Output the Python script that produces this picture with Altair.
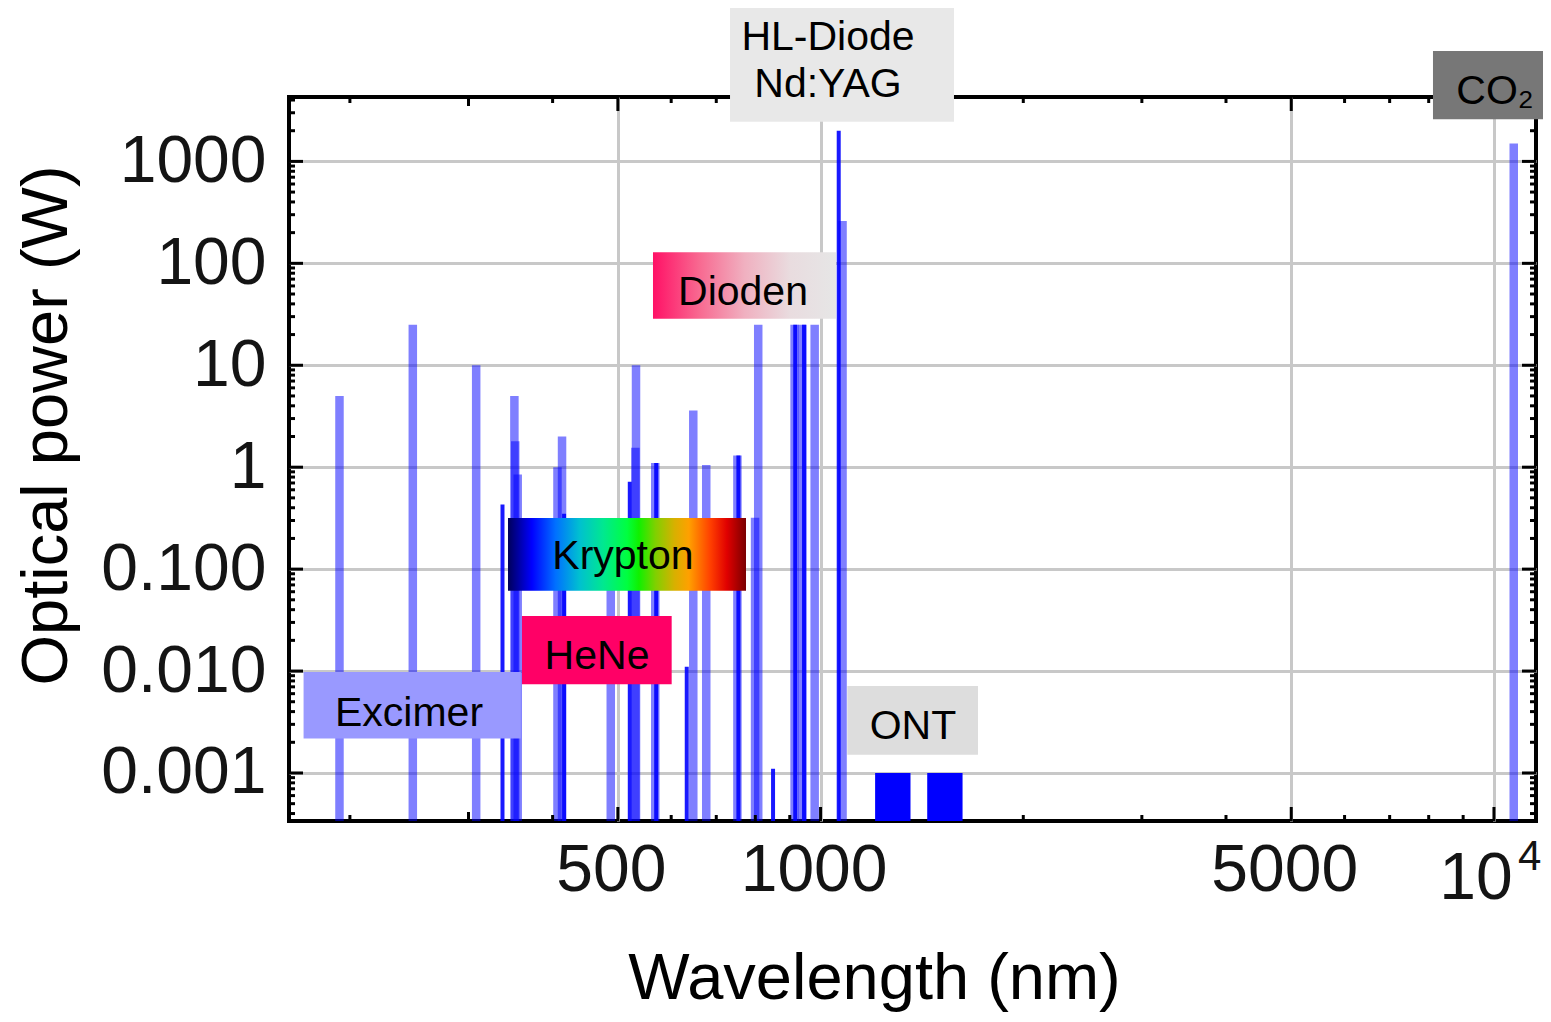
import altair as alt
import pandas as pd

FONT = "Liberation Sans"

# ---------------- data ----------------
# translucent laser lines
WIDE_WL = [193, 248, 308, 351, 352, 355, 406.7, 413.1, 488, 530.9, 532, 568.2,
           647.1, 676.4, 752.5, 799.3, 808, 915, 940, 980, 1078, 10700]
WIDE_P = [5, 25, 10, 5, 1.8, 0.85, 1.0, 2.0, 0.2, 1.55, 10, 1.1,
          3.6, 1.05, 1.3, 0.32, 25, 25, 25, 25, 260, 1500]
# saturated (narrow) laser lines
CORE_WL = [337, 416, 520.8, 570, 632.8, 755, 850, 917, 945, 1064]
CORE_P = [0.43, 0.35, 0.72, 1.1, 0.011, 1.3, 0.0011, 25, 25, 2000]
# ONT bands
ONT_LO = [1205, 1440]
ONT_HI = [1360, 1625]
ONT_P = [0.001, 0.001]

X_DOMAIN = [162.4, 11546]
Y_DOMAIN = [0.000338, 4283]

X_TICKS = [500, 1000, 5000, 10000]
X_LABELS = ["500", "1000", "5000", ""]   # 10^4 is drawn with a real superscript below
Y_TICKS = [0.001, 0.01, 0.1, 1, 10, 100, 1000]
Y_LABELS = ["0.001", "0.010", "0.100", "1", "10", "100", "1000"]
X_MID = [300]
X_MINOR = [200, 400, 600, 700, 800, 900, 2000, 3000, 4000, 6000, 7000, 8000, 9000]
Y_MINOR = [m * 10.0 ** e for e in range(-4, 4) for m in range(2, 10)
           if Y_DOMAIN[0] < m * 10.0 ** e < Y_DOMAIN[1]]

# "10^4" tick label: base and exponent (data coordinates)
POW_BASE = ["10"]
POW_BASE_X = [9403]
POW_BASE_Y = [9.1e-5]
POW_EXP = ["4"]
POW_EXP_X = [11300]
POW_EXP_Y = [1.5e-4]

# annotation boxes (data coordinates)
BOX_NAME = ["Excimer", "HeNe", "Krypton", "Dioden", "HL-Diode\nNd:YAG", "ONT", "CO₂"]
BOX_X1 = [170.7, 360.2, 343.4, 563.8, 733.7, 1095.7, 8118]
BOX_X2 = [358.8, 601.0, 774.9, 1054.1, 1578, 1713, 12069]
BOX_Y1 = [0.002179, 0.007413, 0.06142, 28.63, 2452, 0.001511, 2588]
BOX_Y2 = [0.009811, 0.03468, 0.3174, 128.3, 33460, 0.007134, 12110]
TEXT_X = [244.8, 465.6, 508.8, 767.0, 1025.6, 1371.5, 10035]
TEXT_Y = [0.00379, 0.01373, 0.1315, 51.15, 16240, 0.002826, 4797]

# ---------------- styles ----------------
W, H = 1247, 724
SOLID_FILL = {"Excimer": "#9999ff", "HeNe": "#ff0066", "HL-Diode\nNd:YAG": "#e8e8e8",
              "ONT": "#dddddd", "CO₂": "#777777"}
KRYPTON_GRAD = alt.LinearGradient(
    gradient="linear", x1=0, x2=1, y1=0, y2=0,
    stops=[alt.GradientStop(offset=o, color=c) for o, c in [
        (0.0, "#00005a"), (0.1, "#0000ff"), (0.2, "#0070ff"), (0.3, "#00c0d0"),
        (0.4, "#00e890"), (0.5, "#00ff40"), (0.55, "#10f000"), (0.62, "#80d000"),
        (0.7, "#d8b000"), (0.76, "#ffa000"), (0.85, "#ff4000"), (0.92, "#e00000"),
        (1.0, "#7a0000")]])
DIODEN_GRAD = alt.LinearGradient(
    gradient="linear", x1=0, x2=1, y1=0, y2=0,
    stops=[alt.GradientStop(offset=o, color=c) for o, c in [
        (0.0, "#ff1166"), (0.25, "#f86890"), (0.5, "#f0b0c0"), (0.75, "#e9dcdf"),
        (1.0, "#e6e6e6")]])
LABEL_COLOR = "#141414"


def label_expr(vals, labels):
    parts = [f"abs(datum.value - {v}) < {v * 1e-6} ? '{l}'" for v, l in zip(vals, labels)]
    return " : ".join(parts) + " : ''"


xscale = alt.Scale(type="log", domain=X_DOMAIN, nice=False, zero=False)
yscale = alt.Scale(type="log", domain=Y_DOMAIN, nice=False, zero=False)

xaxis = alt.Axis(values=X_TICKS, labelExpr=label_expr(X_TICKS, X_LABELS),
                 grid=True, gridColor="#c8c8c8", gridWidth=3, ticks=False, tickSize=0,
                 domain=False, labelFont=FONT, labelFontSize=66, labelColor=LABEL_COLOR,
                 labelPadding=17, labelOffset=-7, labelFlush=False, labelOverlap=False,
                 title="Wavelength (nm)", titleFont=FONT, titleFontSize=65,
                 titleFontWeight="normal", titleColor="black", titleX=585, titleY=177,
                 titleAlign="center", titleBaseline="alphabetic")
yaxis = alt.Axis(values=Y_TICKS, labelExpr=label_expr(Y_TICKS, Y_LABELS),
                 grid=True, gridColor="#c8c8c8", gridWidth=3, ticks=False, tickSize=0,
                 domain=False, labelFont=FONT, labelFontSize=66, labelColor=LABEL_COLOR,
                 labelPadding=23, labelFlush=False, labelOverlap=False,
                 title="Optical power (W)", titleFont=FONT, titleFontSize=65,
                 titleFontWeight="normal", titleColor="black", titleX=-243, titleY=328,
                 titleAngle=-90, titleAlign="center", titleBaseline="middle")


def X(f):
    return alt.X(f"{f}:Q", scale=xscale, axis=xaxis)


def Y(f):
    return alt.Y(f"{f}:Q", scale=yscale, axis=yaxis)


layers = []


# inward tick marks on all four sides
def x_ticks(vals, L):
    df = pd.DataFrame({"v": vals})
    out = []
    for y0, y1 in [(H, H - L), (0, L)]:
        out.append(alt.Chart(df).mark_rule(color="black", strokeWidth=3).encode(
            x=X("v"), y=alt.value(y0), y2=alt.value(y1)))
    return out


def y_ticks(vals, L):
    df = pd.DataFrame({"v": vals})
    out = []
    for x0, x1 in [(0, L), (W, W - L)]:
        out.append(alt.Chart(df).mark_rule(color="black", strokeWidth=3).encode(
            y=Y("v"), x=alt.value(x0), x2=alt.value(x1)))
    return out


# bars
wide_df = pd.DataFrame({"wl": WIDE_WL, "p": WIDE_P})
core_df = pd.DataFrame({"wl": CORE_WL, "p": CORE_P})
ont_df = pd.DataFrame({"lo": ONT_LO, "hi": ONT_HI, "p": ONT_P})

layers.append(alt.Chart(wide_df).mark_rule(color="#0000ff", strokeWidth=8.5, opacity=0.5).encode(
    x=X("wl"), y=Y("p"), y2=alt.datum(Y_DOMAIN[0])))
layers.append(alt.Chart(core_df).mark_rule(color="#0000ff", strokeWidth=4, opacity=0.9).encode(
    x=X("wl"), y=Y("p"), y2=alt.datum(Y_DOMAIN[0])))
layers.append(alt.Chart(ont_df).mark_rect(color="#0000ff").encode(
    x=X("lo"), x2="hi", y=Y("p"), y2=alt.datum(Y_DOMAIN[0])))

layers += x_ticks(X_TICKS, 14) + x_ticks(X_MID, 9) + x_ticks(X_MINOR, 6)
layers += y_ticks(Y_TICKS, 14) + y_ticks(Y_MINOR, 6)

# 10^4 tick label
pow_base = pd.DataFrame({"t": POW_BASE, "x": POW_BASE_X, "y": POW_BASE_Y})
pow_exp = pd.DataFrame({"t": POW_EXP, "x": POW_EXP_X, "y": POW_EXP_Y})
layers.append(alt.Chart(pow_base).mark_text(
    font=FONT, fontSize=66, color=LABEL_COLOR, align="center", baseline="middle").encode(
    x=X("x"), y=Y("y"), text="t:N"))
layers.append(alt.Chart(pow_exp).mark_text(
    font=FONT, fontSize=42, color=LABEL_COLOR, align="center", baseline="middle").encode(
    x=X("x"), y=Y("y"), text="t:N"))

# annotation boxes
box_df = pd.DataFrame({"name": BOX_NAME, "x1": BOX_X1, "x2": BOX_X2,
                       "y1": BOX_Y1, "y2": BOX_Y2, "tx": TEXT_X, "ty": TEXT_Y})
box_df["fill"] = box_df["name"].map(SOLID_FILL)
solid = box_df[box_df["fill"].notna()]
layers.append(alt.Chart(solid).mark_rect().encode(
    x=X("x1"), x2="x2", y=Y("y1"), y2="y2", fill=alt.Fill("fill:N", scale=None)))
for name, grad in [("Krypton", KRYPTON_GRAD), ("Dioden", DIODEN_GRAD)]:
    layers.append(alt.Chart(box_df[box_df["name"] == name]).mark_rect(fill=grad).encode(
        x=X("x1"), x2="x2", y=Y("y1"), y2="y2"))
layers.append(alt.Chart(box_df).mark_text(
    font=FONT, fontSize=41, color="black", align="center", baseline="middle",
    lineBreak="\n", lineHeight=47).encode(x=X("tx"), y=Y("ty"), text="name:N"))

chart = alt.layer(*layers).properties(
    width=W, height=H,
    autosize=alt.AutoSizeParams(type="none"),
    padding={"left": 281, "top": 89, "right": 7, "bottom": 192},
).configure_view(stroke="black", strokeWidth=4)

chart.save("out.html", embed_options={"renderer": "svg", "actions": False})
